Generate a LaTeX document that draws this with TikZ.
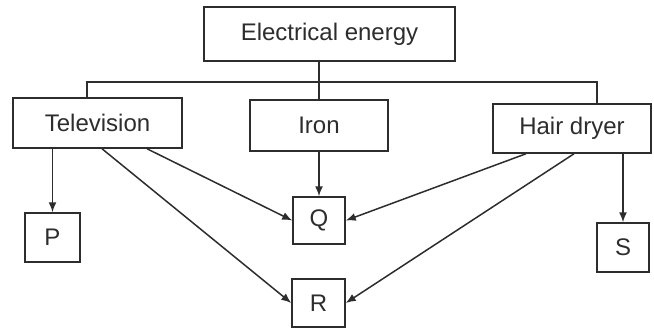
\documentclass[tikz,border=0pt]{standalone}
\usepackage{fontspec}
\setmainfont{Liberation Sans}
\usetikzlibrary{arrows.meta}
\definecolor{inkC}{RGB}{45,45,45}

\begin{document}
\begin{tikzpicture}[x=0.5pt,y=-0.5pt,>={Latex[length=5pt,width=4pt]},
  line/.style={draw=inkC,line width=0.75pt},
  box/.style={line,inner sep=0pt,font=\fontsize{12}{14}\selectfont,text=inkC}]
\useasboundingbox (0,0) rectangle (654,329);
% boxes
\node[box,minimum width=125.5pt,minimum height=27pt] (energy) at (329.5,34) {Electrical energy};
\node[box,minimum width=84.5pt,minimum height=25pt] (tv) at (97.5,123) {Television};
\node[box,minimum width=69pt,minimum height=25.5pt] (iron) at (319,125.5) {Iron};
\node[box,minimum width=79pt,minimum height=24.5pt] (dryer) at (572,128.5) {Hair dryer};
\node[box,minimum width=27.5pt,minimum height=24.5pt] (P) at (52.5,237.5) {P};
\node[box,minimum width=26pt,minimum height=23.5pt] (Q) at (319,220.5) {Q};
\node[box,minimum width=26.5pt,minimum height=24pt] (R) at (318.5,303) {R};
\node[box,minimum width=26pt,minimum height=24.5pt] (S) at (623,247.5) {S};
% bus
\coordinate (busL) at (87,82); \coordinate (busR) at (597,82);
\draw[line] (iron.north |- energy.south)--(iron.north);
\draw[line] (busL |- tv.north)--(busL)--(busR)--(busR |- dryer.north);
% arrows
\draw[line,->] (P.north |- tv.south)--(P.north);
\draw[line,->] (iron.south)--(Q.north);
\draw[line,->] (S.north |- dryer.south)--(S.north);
\draw[line,->] (147,0 |- tv.south)--(Q.west);
\draw[line,->] (102,0 |- tv.south)--(R.west);
\draw[line,->] (526,0 |- dryer.south)--(Q.east);
\draw[line,->] (574,0 |- dryer.south)--(R.east);
\end{tikzpicture}
\end{document}
